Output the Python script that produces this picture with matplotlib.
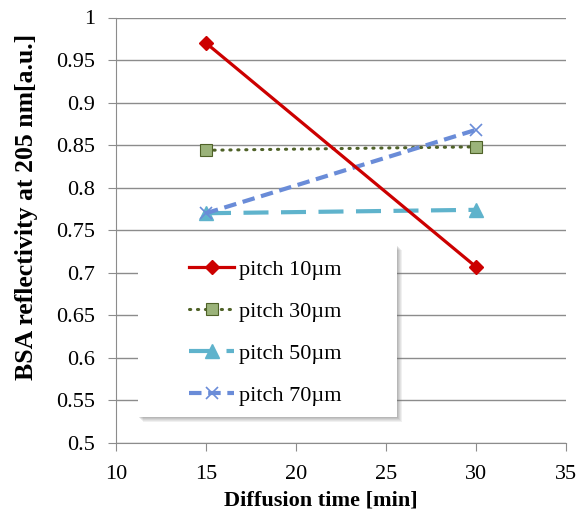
import matplotlib.pyplot as plt
from matplotlib.patches import Rectangle

# diffusion times [min] and reflectivity per pitch
time_min = [15, 30]
pitch_10 = [0.970, 0.707]
pitch_30 = [0.844, 0.848]
pitch_50 = [0.770, 0.774]
pitch_70 = [0.770, 0.868]
labels = ["pitch 10\u00b5m", "pitch 30\u00b5m", "pitch 50\u00b5m", "pitch 70\u00b5m"]

plt.rcParams["font.family"] = ["Liberation Serif", "DejaVu Serif"]
FS = 16

fig = plt.figure(figsize=(5.78, 5.18), dpi=100)
ax = fig.add_axes([116 / 578, 75 / 518, 450 / 578, 425.5 / 518])

ax.plot(time_min, pitch_10, color="#CC0000", lw=2.3, marker="D", ms=7.5,
        mfc="#CC0000", mec="#CC0000", label=labels[0], zorder=5)
ax.plot(time_min, pitch_30, color="#4F6228", lw=2.2, ls=(0, (0.4, 2.2)),
        dash_capstyle="round", marker="s", ms=9, mfc="#9BB37A", mec="#4F6228",
        mew=0.8, label=labels[1], zorder=4)
ax.plot(time_min, pitch_50, color="#5FB3CC", lw=3, ls=(0, (6, 3)),
        marker="^", ms=10, mfc="#5FB3CC", mec="#5FB3CC", label=labels[2], zorder=3)
ax.plot(time_min, pitch_70, color="#6A8CD8", lw=3, ls=(0, (3, 1.6)),
        marker="x", ms=9, mew=1.2, mec="#6A8CD8", label=labels[3], zorder=4)

ax.set_xlim(10, 35)
ax.set_ylim(0.5, 1.0)
ax.set_xticks([10, 15, 20, 25, 30, 35])
ax.set_yticks([0.5, 0.55, 0.6, 0.65, 0.7, 0.75, 0.8, 0.85, 0.9, 0.95, 1.0])
ax.set_yticklabels(["0.5", "0.55", "0.6", "0.65", "0.7", "0.75", "0.8",
                    "0.85", "0.9", "0.95", "1"])
ax.grid(axis="y", color="#8C8C8C", lw=1)
ax.set_axisbelow(True)
for side in ("top", "right"):
    ax.spines[side].set_visible(False)
for side in ("left", "bottom"):
    ax.spines[side].set_color("#8C8C8C")
ax.tick_params(axis="both", colors="#8C8C8C", labelcolor="black",
               labelsize=FS, length=6, direction="out")
ax.tick_params(axis="y", pad=9)
ax.tick_params(axis="x", pad=10)

ax.set_xlabel("Diffusion time [min]", fontsize=FS, fontweight="bold")
ax.set_ylabel("BSA reflectivity at 205 nm[a.u.]", fontsize=18.5, fontweight="bold")
ax.xaxis.set_label_coords(0.456, -0.134)
ax.xaxis.label.set_va("center")
ax.yaxis.set_label_coords(-0.198, 0.555)
ax.yaxis.label.set_va("center")

# legend box with soft drop shadow
box_x, box_y, box_w, box_h = 0.049, 0.061, 0.575, 0.404
for k, a in enumerate([0.10, 0.10, 0.12, 0.14, 0.16]):
    off = (5 - k) * 1.0
    ax.add_patch(Rectangle((box_x + off / 450, box_y - off / 425.5), box_w, box_h,
                           transform=ax.transAxes, facecolor="#707070",
                           edgecolor="none", alpha=a, zorder=8))
ax.add_patch(Rectangle((box_x, box_y), box_w, box_h, transform=ax.transAxes,
                       facecolor="white", edgecolor="none", zorder=9))

leg = ax.legend(loc="center", bbox_to_anchor=(box_x + box_w / 2 - 0.004,
                                              box_y + box_h / 2 - 0.004),
                fontsize=FS, frameon=False, numpoints=1, labelspacing=0.96,
                handlelength=2.0, handletextpad=0.25, borderaxespad=0)
leg.set_zorder(10)

fig.savefig("out.png", dpi=100)
